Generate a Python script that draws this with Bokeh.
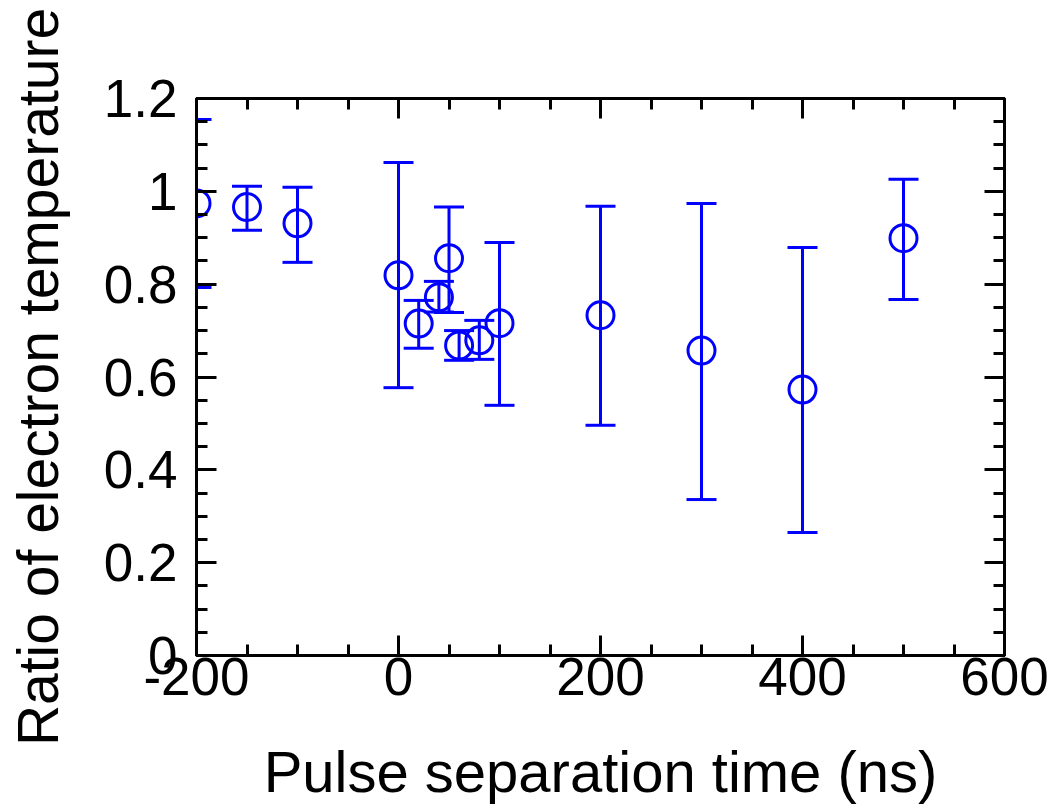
from bokeh.plotting import figure
from bokeh.models import LinearAxis, FixedTicker, Range1d, CustomLabelingPolicy
from bokeh.embed import file_html
from bokeh.resources import INLINE

# ---- data ----
pulse_sep = [-200, -150, -100, 0, 20, 40, 50, 60, 80, 100, 200, 300, 400, 500]
ratio = [0.974, 0.966, 0.931, 0.819, 0.715, 0.772, 0.856, 0.668, 0.679, 0.716, 0.733, 0.657, 0.573, 0.899]
ratio_upper = [1.155, 1.011, 1.009, 1.062, 0.765, 0.806, 0.966, 0.700, 0.722, 0.890, 0.968, 0.974, 0.879, 1.026]
ratio_lower = [0.793, 0.916, 0.847, 0.577, 0.662, 0.740, 0.739, 0.636, 0.638, 0.539, 0.496, 0.336, 0.265, 0.767]

x_ticks = [-200, 0, 200, 400, 600]
x_tick_labels = ["-200", "0", "200", "400", "600"]
y_ticks = [0, 0.2, 0.4, 0.6, 0.8, 1.0, 1.2]
y_tick_labels = ["0", "0.2", "0.4", "0.6", "0.8", "1", "1.2"]

x_label = "Pulse separation time (ns)"
y_label = "Ratio of electron temperature"

FONT = "Liberation Sans"
BLUE = "#0000FF"

W, H = 1050, 806
p = figure(width=W, height=H, x_range=Range1d(-200, 600), y_range=Range1d(0, 1.2),
           output_backend="svg", toolbar_location=None,
           min_border_left=196, min_border_right=W - 1004, min_border_top=98, min_border_bottom=H - 655,
           x_axis_location=None, y_axis_location=None)
p.grid.visible = False
p.outline_line_color = "black"
p.outline_line_width = 3
p.background_fill_color = "white"
p.border_fill_color = "white"

x_minor = [-200 + 50 * i for i in range(17)]
y_minor = [round(0.05 * i, 2) for i in range(25)]

no_labels = CustomLabelingPolicy(code="return new Set()")


def make_axis(kind, show_labels):
    if kind == "x":
        ticker = FixedTicker(ticks=x_ticks, minor_ticks=x_minor)
        overrides = {t: l for t, l in zip(x_ticks, x_tick_labels)}
    else:
        ticker = FixedTicker(ticks=y_ticks, minor_ticks=y_minor)
        overrides = {t: l for t, l in zip(y_ticks, y_tick_labels)}
    ax = LinearAxis(ticker=ticker, major_label_overrides=overrides)
    ax.axis_line_color = "black"
    ax.axis_line_width = 3
    ax.major_tick_line_color = "black"
    ax.major_tick_line_width = 3
    ax.minor_tick_line_color = "black"
    ax.minor_tick_line_width = 3
    ax.major_tick_in = 20
    ax.major_tick_out = 0
    ax.minor_tick_in = 11
    ax.minor_tick_out = 0
    ax.major_label_text_font = FONT
    ax.major_label_text_color = "black"
    ax.axis_label_text_font = FONT
    ax.axis_label_text_font_style = "normal"
    ax.axis_label_text_color = "black"
    if show_labels:
        ax.major_label_text_font_size = "53px"
        ax.axis_label_text_font_size = "57px"
    else:
        ax.major_label_text_font_size = "2px"
        ax.major_label_standoff = 0
        ax.major_label_policy = no_labels
    return ax


xb = make_axis("x", True)
xb.axis_label = x_label
xb.axis_label_text_font_size = "58px"
xb.major_label_standoff = 2
xb.axis_label_standoff = 41
p.add_layout(xb, "below")

yl = make_axis("y", True)
yl.axis_label = y_label
yl.major_label_standoff = 19
yl.axis_label_standoff = 31
p.add_layout(yl, "left")

p.add_layout(make_axis("x", False), "above")
p.add_layout(make_axis("y", False), "right")

# error bars
p.segment(x0=pulse_sep, y0=ratio_lower, x1=pulse_sep, y1=ratio_upper, line_color=BLUE, line_width=3)
p.scatter(x=pulse_sep, y=ratio_upper, marker="dash", size=30, line_color=BLUE, line_width=3)
p.scatter(x=pulse_sep, y=ratio_lower, marker="dash", size=30, line_color=BLUE, line_width=3)
# open circles
p.scatter(x=pulse_sep, y=ratio, marker="circle", size=27, fill_color=None, line_color=BLUE, line_width=3)

open("out.html", "w").write(file_html(p, INLINE))
